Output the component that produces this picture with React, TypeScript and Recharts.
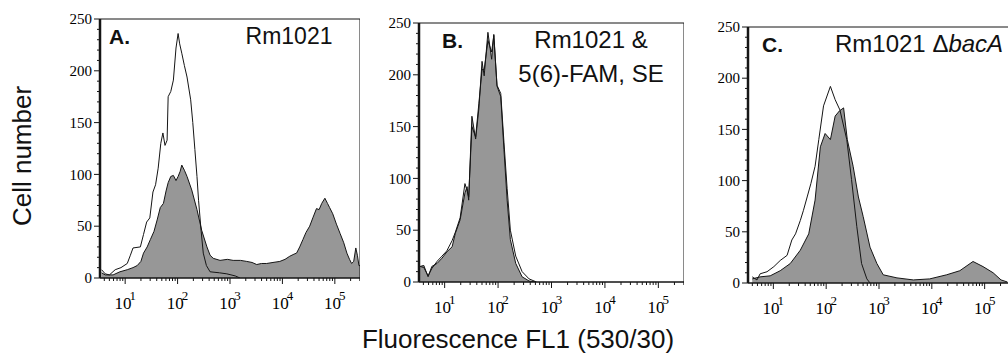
import React from 'react';
import { ComposedChart, Area, Line, XAxis, YAxis, ReferenceArea } from 'recharts';

// x = log10 of FL1 fluorescence, y = cell number
const LOG_DOMAIN: [number, number] = [0.52, 5.48];
const COUNT_DOMAIN: [number, number] = [0, 250];
const DECADES = [1, 2, 3, 4, 5];
const COUNT_TICKS = [0, 50, 100, 150, 200, 250];

// Panel A: Rm1021
const aOutline: [number, number][] = [
  [0.55, 8], [0.62, 4], [0.7, 3], [0.81, 8], [0.92, 10], [1.04, 14], [1.1, 22], [1.15, 29],
  [1.29, 30], [1.35, 42], [1.41, 54], [1.47, 58], [1.53, 83], [1.58, 90], [1.63, 106],
  [1.68, 130], [1.72, 140], [1.76, 128], [1.8, 133], [1.82, 175], [1.87, 180], [1.92, 191],
  [1.97, 222], [2.01, 236], [2.04, 226], [2.08, 217], [2.13, 205], [2.18, 194], [2.25, 172],
  [2.29, 150], [2.33, 124], [2.37, 98], [2.4, 75], [2.45, 45], [2.49, 24], [2.55, 12],
  [2.62, 6], [2.8, 5], [2.94, 4], [3.1, 2], [3.19, 0],
];
const aFilled: [number, number][] = [
  [0.55, 5], [0.62, 3], [0.77, 3], [0.9, 6], [1.04, 8], [1.15, 10], [1.23, 12], [1.3, 16],
  [1.35, 24], [1.42, 30], [1.48, 37], [1.55, 45], [1.61, 56], [1.67, 68], [1.73, 72],
  [1.78, 84], [1.82, 92], [1.87, 98], [1.92, 99], [1.97, 94], [2.01, 98], [2.05, 103],
  [2.08, 109], [2.13, 104], [2.18, 98], [2.27, 85], [2.37, 66], [2.46, 46], [2.56, 30],
  [2.62, 22], [2.68, 19], [2.81, 17], [2.95, 18], [3.06, 17], [3.2, 17], [3.32, 16],
  [3.42, 15], [3.51, 13], [3.6, 14], [3.7, 14], [3.82, 15], [3.95, 16], [4.05, 18],
  [4.14, 21], [4.22, 23], [4.27, 24], [4.33, 30], [4.39, 37], [4.45, 44], [4.52, 50],
  [4.58, 58], [4.65, 67], [4.7, 66], [4.75, 72], [4.81, 77], [4.86, 72], [4.9, 68],
  [4.96, 62], [5.03, 52], [5.1, 43], [5.17, 34], [5.23, 24], [5.28, 18], [5.32, 14],
  [5.36, 16], [5.4, 29], [5.43, 22], [5.46, 12], [5.48, 12],
];

// Panel B: Rm1021 & 5(6)-FAM, SE
const bOutline: [number, number][] = [
  [0.54, 15], [0.61, 14], [0.69, 6], [0.76, 13], [0.86, 20], [0.95, 25], [1.04, 30],
  [1.14, 40], [1.2, 48], [1.29, 62], [1.38, 95], [1.42, 88], [1.45, 82], [1.51, 150],
  [1.58, 140], [1.64, 172], [1.7, 205], [1.74, 205], [1.81, 233], [1.88, 222], [1.92, 238],
  [1.98, 190], [2.05, 182], [2.11, 135], [2.17, 90], [2.23, 50], [2.33, 25], [2.45, 10],
  [2.58, 3], [2.72, 0],
];
const bFilled: [number, number][] = [
  [0.54, 15], [0.61, 16], [0.69, 5], [0.76, 15], [0.86, 18], [0.95, 23], [1.04, 29],
  [1.14, 34], [1.2, 47], [1.29, 60], [1.38, 86], [1.42, 92], [1.45, 79], [1.51, 160],
  [1.58, 138], [1.64, 167], [1.7, 213], [1.74, 199], [1.81, 241], [1.88, 215], [1.92, 239],
  [1.98, 189], [2.05, 179], [2.11, 128], [2.17, 79], [2.23, 41], [2.33, 18], [2.45, 5],
  [2.58, 1], [2.7, 0],
];

// Panel C: Rm1021 bacA
const cOutline: [number, number][] = [
  [0.6, 6], [0.69, 3], [0.75, 9], [0.88, 11], [1.01, 16], [1.13, 22], [1.26, 27], [1.35, 42],
  [1.42, 48], [1.51, 61], [1.57, 71], [1.64, 84], [1.71, 97], [1.79, 114], [1.86, 140],
  [1.95, 173], [2.08, 192], [2.17, 179], [2.26, 169], [2.39, 140], [2.48, 101], [2.58, 55],
  [2.67, 19], [2.77, 4], [2.83, 0],
];
const cFilled: [number, number][] = [
  [0.6, 4], [0.75, 6], [0.94, 7], [1.13, 12], [1.32, 19], [1.51, 32], [1.67, 48], [1.79, 81],
  [1.89, 133], [1.98, 146], [2.08, 140], [2.17, 163], [2.25, 168], [2.33, 171], [2.4, 140],
  [2.51, 114], [2.61, 84], [2.7, 65], [2.83, 35], [2.96, 19], [3.08, 8], [3.34, 5],
  [3.65, 3], [3.96, 4], [4.28, 8], [4.53, 12], [4.78, 21], [4.97, 16], [5.16, 10],
  [5.31, 3], [5.43, 1],
];

const toPoints = (pairs: [number, number][]) => pairs.map(([x, y]) => ({ x, y }));

const X_TICKS: number[] = [];
for (let d = 0; d <= 5; d++) {
  for (let k = 1; k <= 9; k++) {
    const v = d + Math.log10(k);
    if (v >= LOG_DOMAIN[0] && v <= LOG_DOMAIN[1]) X_TICKS.push(v);
  }
}
const Y_TICKS: number[] = [];
for (let v = 0; v <= 250; v += 10) Y_TICKS.push(v);

const INK = '#151515';
const SERIF = '"Liberation Serif", "Times New Roman", serif';
const SANS = '"Liberation Sans", Arial, sans-serif';

const LogTick = ({ x, y, payload }: any) => {
  const v = payload.value;
  const major = Math.abs(v - Math.round(v)) < 1e-6 && DECADES.includes(Math.round(v));
  return (
    <g>
      <line x1={x} y1={y} x2={x} y2={y + (major ? 6 : 3)} stroke={INK} strokeWidth={1} />
      {major && (
        <text x={x} y={y + 31} textAnchor="middle" fontFamily={SERIF} fontSize={17} fill="#000">
          10
          <tspan dy={-9} dx={-2} fontSize={13}>
            {Math.round(v)}
          </tspan>
        </text>
      )}
    </g>
  );
};

const CountTick = ({ x, y, payload }: any) => {
  const v = payload.value;
  const major = COUNT_TICKS.includes(v);
  return (
    <g>
      <line x1={x - (major ? 6 : 3)} y1={y} x2={x} y2={y} stroke={INK} strokeWidth={1} />
      {major && (
        <text x={x - 8} y={y} dy="0.35em" textAnchor="end" fontFamily={SERIF} fontSize={15} fill="#000">
          {v}
        </text>
      )}
    </g>
  );
};

interface PanelProps {
  left: number;
  top: number;
  width: number;
  height: number;
  outline: [number, number][];
  filled: [number, number][];
}

const Panel: React.FC<PanelProps> = ({ left, top, width, height, outline, filled }) => (
  <div style={{ position: 'absolute', left, top }}>
    <ComposedChart width={width} height={height} margin={{ top: 10, right: 0, bottom: 0, left: 0 }}>
      <XAxis
        type="number"
        dataKey="x"
        domain={LOG_DOMAIN}
        ticks={X_TICKS}
        interval={0}
        tick={<LogTick />}
        tickLine={false}
        tickSize={0}
        tickMargin={0}
        height={40}
        axisLine={{ stroke: INK }}
        allowDataOverflow
      />
      <YAxis
        type="number"
        domain={COUNT_DOMAIN}
        ticks={Y_TICKS}
        interval={0}
        tick={<CountTick />}
        tickLine={false}
        tickSize={0}
        tickMargin={0}
        width={45}
        axisLine={{ stroke: INK, strokeWidth: 2.5 }}
        allowDataOverflow
      />
      <Area
        data={toPoints(filled)}
        dataKey="y"
        type="linear"
        fill="#979797"
        fillOpacity={1}
        stroke={INK}
        strokeWidth={1}
        dot={false}
        activeDot={false}
        isAnimationActive={false}
      />
      <Line
        data={toPoints(outline)}
        dataKey="y"
        type="linear"
        stroke={INK}
        strokeWidth={1}
        dot={false}
        activeDot={false}
        isAnimationActive={false}
      />
      <ReferenceArea
        x1={LOG_DOMAIN[0]}
        x2={LOG_DOMAIN[1]}
        y1={COUNT_DOMAIN[0]}
        y2={COUNT_DOMAIN[1]}
        fill="none"
        fillOpacity={0}
        stroke={INK}
        strokeWidth={1}
      />
    </ComposedChart>
  </div>
);

export default function App() {
  return (
    <div
      style={{
        position: 'absolute',
        left: 0,
        top: 0,
        width: 1008,
        height: 358,
        overflow: 'hidden',
        background: '#fff',
      }}
    >
      <Panel left={55} top={9} width={305} height={309} outline={aOutline} filled={aFilled} />
      <Panel left={374} top={13} width={310} height={309} outline={bOutline} filled={bFilled} />
      <Panel left={703} top={17} width={307} height={306} outline={cOutline} filled={cFilled} />
      <svg
        width={1008}
        height={358}
        style={{ position: 'absolute', left: 0, top: 0, pointerEvents: 'none' }}
      >
        <g fontFamily={SANS} fill="#111">
          <text x={109} y={44} fontSize={21} fontWeight="bold">A.</text>
          <text x={289} y={44} fontSize={23} textAnchor="middle">Rm1021</text>
          <text x={442} y={48} fontSize={21} fontWeight="bold">B.</text>
          <text x={591} y={48} fontSize={24} textAnchor="middle">Rm1021 &amp;</text>
          <text x={591} y={82} fontSize={24} textAnchor="middle">5(6)-FAM, SE</text>
          <text x={762} y={52} fontSize={21} fontWeight="bold">C.</text>
          <text x={835} y={52} fontSize={24}>
            Rm1021 Δ<tspan fontStyle="italic">bacA</tspan>
          </text>
          <text x={518} y={348} fontSize={26} textAnchor="middle">Fluorescence FL1 (530/30)</text>
          <text x={31} y={156} fontSize={26} textAnchor="middle" transform="rotate(-90 31 156)">
            Cell number
          </text>
        </g>
      </svg>
    </div>
  );
}
